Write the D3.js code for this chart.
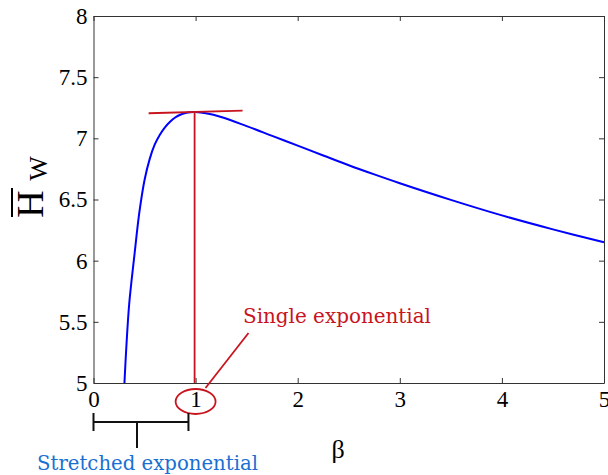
<!doctype html>
<html>
  <head>
    <title>H_W versus beta</title>
    <style>
      body { margin: 0; background: #fff; }
    </style>
  </head>
  <body>
    <svg width='608' height='475'></svg>

  <script src='https://cdn.jsdelivr.net/npm/d3@7'></script>
  <script>
// Curve: beta on x, mean H_W on y.
var beta = [0.303, 0.32, 0.35, 0.40, 0.45, 0.50, 0.55, 0.60, 0.65, 0.70, 0.75, 0.80, 0.85, 0.90, 0.95, 1.0,
  1.1, 1.25, 1.5, 1.75, 2.0, 2.25, 2.5, 2.75, 3.0, 3.5, 4.0, 4.5, 5.0];
var hw = [5.00, 5.27, 5.65, 6.04, 6.40, 6.66, 6.83, 6.95, 7.03, 7.09, 7.135, 7.17, 7.193, 7.207, 7.214, 7.215,
  7.205, 7.175, 7.10, 7.02, 6.94, 6.86, 6.78, 6.705, 6.633, 6.497, 6.37, 6.256, 6.15];
var xTicks = [0, 1, 2, 3, 4, 5];
var yTicks = [5, 5.5, 6, 6.5, 7, 7.5, 8];

// Annotation anchors (data units)
var peak = [1.0, 7.215];
var tangent = [[0.54, 7.205], [1.46, 7.227]];
var stretchedRange = [0, 0.93];

var svg = d3.select('svg'),
  mLeft = 93.5, mRight = 604, mTop = 16, mBottom = 383;

var x = d3.scaleLinear().domain([0, 5]).range([mLeft, mRight]);
var y = d3.scaleLinear().domain([5, 8]).range([mBottom, mTop]);

var axisColor = '#333';
var red = '#c8141e';
var blue = '#1a6fd2';
var serif = "'Liberation Serif', 'Times New Roman', serif";
var wideSerif = "'DejaVu Serif', serif";

// axes box with inward ticks on all four sides
function styleAxis(g) {
  g.attr('font-size', null).attr('font-family', null);
  g.selectAll('path, line').attr('stroke', axisColor);
  g.selectAll('text').style('font-size', '23px').style('font-family', serif).attr('fill', '#000');
}
svg.append('g').attr('transform', 'translate(0,' + mBottom + ')')
  .call(d3.axisBottom(x).tickValues(xTicks).tickSize(-5).tickSizeOuter(0).tickPadding(8).tickFormat(d3.format('d')))
  .call(styleAxis);
svg.append('g').attr('transform', 'translate(0,' + mTop + ')')
  .call(d3.axisTop(x).tickValues(xTicks).tickSize(-5).tickSizeOuter(0).tickFormat(''))
  .call(styleAxis);
svg.append('g').attr('transform', 'translate(' + mLeft + ',0)')
  .call(d3.axisLeft(y).tickValues(yTicks).tickSize(-5).tickSizeOuter(0).tickPadding(6).tickFormat(function(d) { return String(d); }))
  .call(styleAxis);
svg.append('g').attr('transform', 'translate(' + mRight + ',0)')
  .call(d3.axisRight(y).tickValues(yTicks).tickSize(-5).tickSizeOuter(0).tickFormat(''))
  .call(styleAxis);

// the curve
var line = d3.line()
  .x(function(d, i) { return x(beta[i]); })
  .y(function(d) { return y(d); })
  .curve(d3.curveCatmullRom.alpha(0.5));
svg.append('path')
  .attr('d', line(hw))
  .attr('fill', 'none')
  .attr('stroke', '#0000ff')
  .attr('stroke-width', 2);

// red tangent + drop line at the maximum
svg.append('line')
  .attr('x1', x(tangent[0][0])).attr('y1', y(tangent[0][1]))
  .attr('x2', x(tangent[1][0])).attr('y2', y(tangent[1][1]))
  .attr('stroke', red).attr('stroke-width', 1.8);
svg.append('line')
  .attr('x1', x(peak[0]) - 1).attr('y1', y(peak[1]))
  .attr('x2', x(peak[0]) - 1).attr('y2', mBottom)
  .attr('stroke', red).attr('stroke-width', 1.8);

// ellipse round the "1" tick label, pointer to the text
svg.append('ellipse')
  .attr('cx', x(1)).attr('cy', 401.5).attr('rx', 20).attr('ry', 12.5)
  .attr('fill', 'none').attr('stroke', red).attr('stroke-width', 1.8);
svg.append('line')
  .attr('x1', 205.5).attr('y1', 388).attr('x2', 248.5).attr('y2', 333)
  .attr('stroke', red).attr('stroke-width', 1.8);
svg.append('text')
  .attr('x', 243).attr('y', 323)
  .style('font-family', wideSerif).style('font-size', '20px')
  .attr('textLength', 188).attr('lengthAdjust', 'spacingAndGlyphs')
  .attr('fill', red)
  .text('Single exponential');

// bracket under the axis for the stretched range
var bx0 = x(stretchedRange[0]), bx1 = x(stretchedRange[1]), bmid = 137;
svg.append('path')
  .attr('d', 'M' + bx0 + ',413V431M' + bx0 + ',422H' + bx1 + 'M' + bx1 + ',413V431M' + bmid + ',422V448')
  .attr('fill', 'none').attr('stroke', '#111').attr('stroke-width', 2);
svg.append('text')
  .attr('x', 37).attr('y', 470)
  .style('font-family', wideSerif).style('font-size', '20px')
  .attr('textLength', 221).attr('lengthAdjust', 'spacingAndGlyphs')
  .attr('fill', blue)
  .text('Stretched exponential');

// axis titles
svg.append('text')
  .attr('x', 338).attr('y', 458).attr('text-anchor', 'middle')
  .style('font-family', serif).style('font-size', '26px')
  .text('β');

var yl = svg.append('g').attr('transform', 'translate(43,0) rotate(-90)');
yl.append('text')
  .attr('x', -204).attr('y', 0).attr('text-anchor', 'middle')
  .style('font-family', serif).style('font-size', '38px')
  .text('H');
yl.append('text')
  .attr('x', -168.5).attr('y', 4).attr('text-anchor', 'middle')
  .style('font-family', serif).style('font-size', '26px')
  .text('W');
yl.append('line')
  .attr('x1', -217).attr('x2', -188).attr('y1', -31).attr('y2', -31)
  .attr('stroke', '#000').attr('stroke-width', 2);
  </script>
  </body>
</html>
